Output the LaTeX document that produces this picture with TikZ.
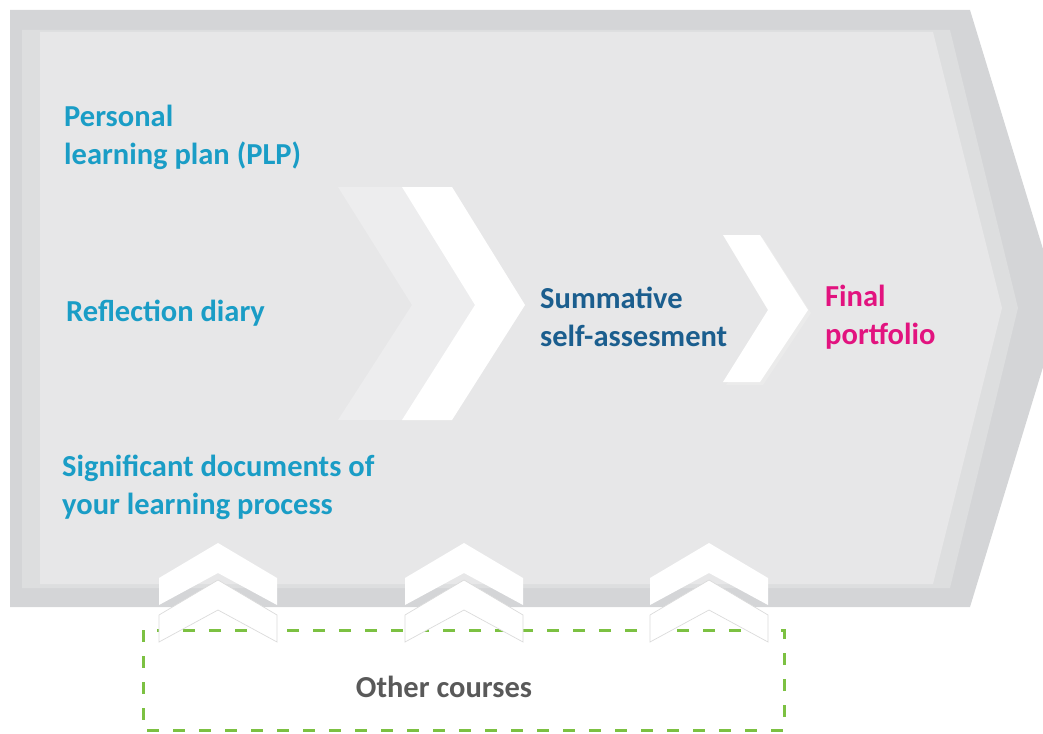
\documentclass[tikz,border=0pt]{standalone}
\usepackage{fontspec}
\setmainfont{Carlito}
\definecolor{bandout}{HTML}{D4D5D7}
\definecolor{bandmid}{HTML}{DDDEDF}
\definecolor{bandin}{HTML}{E7E7E8}
\definecolor{chevlight}{HTML}{EDEDEE}
\definecolor{plpblue}{HTML}{1A9DC6}
\definecolor{sumblue}{HTML}{1B5E8E}
\definecolor{finpink}{HTML}{E2137F}
\definecolor{othgray}{HTML}{595959}
\definecolor{boxgreen}{HTML}{7CC142}

\begin{document}
\begin{tikzpicture}[x=1pt,y=-1pt,
        lbl/.style={font=\bfseries\fontsize{30.5}{38}\selectfont,align=left,anchor=west,inner sep=0pt},
        upchev/.style={fill=white,draw=black!14,line width=.7pt}]
        \useasboundingbox (0,0) rectangle (1043,733);

        % big arrow in three bands
        \fill[bandout] (10,10)--(970,10)--(1061,308)--(970,607)--(10,607)--cycle;
        \fill[bandmid] (22,30)--(950,30)--(1018,308)--(950,588)--(22,588)--cycle;
        \fill[bandin] (40,32)--(933,32)--(1002,308)--(933,584)--(40,584)--cycle;

        % chevrons inside
        \fill[chevlight] (338,187)--(452,187)--(525,305)--(452,420)--(338,420)--(412,305)--cycle;
        \fill[white] (402,187)--(452,187)--(525,305)--(452,420)--(402,420)--(475,305)--cycle;
        \fill[black!8] (726,238)--(763,238)--(811,313)--(763,385)--(726,385)--(771,313)--cycle;
        \fill[white] (723,235)--(760,235)--(808,310)--(760,382)--(723,382)--(768,310)--cycle;

        % dashed box
        \draw[boxgreen,line width=3pt,dash pattern=on 12pt off 14pt] (143,630) rectangle (784,730);

        % chevrons from below
        \foreach \x in {218,464,709}
        {
            \draw[upchev] (\x,580)--(\x+59,615)--(\x+59,642)--(\x,610)--(\x-59,642)--(\x-59,615)--cycle;
            \fill[white] (\x,543)--(\x+59,578)--(\x+59,605)--(\x,573)--(\x-59,605)--(\x-59,578)--cycle;
        }

        \node[lbl,text=plpblue] (plp) at (64,137) {Personal\\learning plan (PLP)};
        \node[lbl,text=plpblue] (diary) at (66,313) {Reflection diary};
        \node[lbl,text=plpblue] (docs) at (62,487) {Significant documents of\\your learning process};
        \node[lbl,text=sumblue] (summ) at (540,317) {Summative\\self-assesment};
        \node[lbl,text=finpink] (final) at (825,317) {Final\\portfolio};
        \node[font=\bfseries\fontsize{30.5}{38}\selectfont,text=othgray,inner sep=0pt] (other) at (444,687) {Other courses};

    \end{tikzpicture}
\end{document}
